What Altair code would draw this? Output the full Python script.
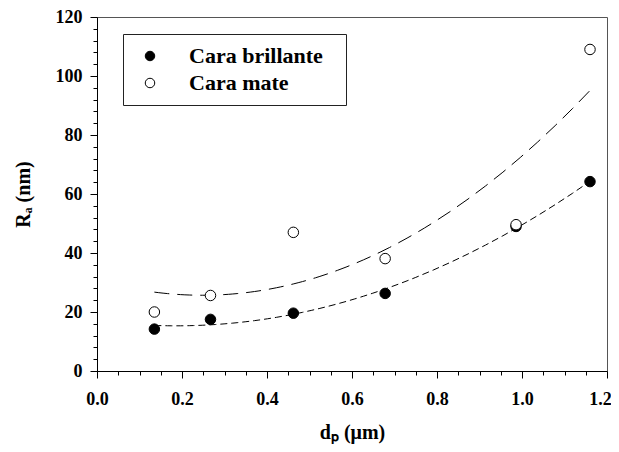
import altair as alt
import pandas as pd

# Data
dp = [0.135, 0.267, 0.462, 0.678, 0.986, 1.160]
ra_brillante = [14.2, 17.5, 19.6, 26.3, 49.0, 64.2]
ra_mate = [20.0, 25.6, 47.0, 38.1, 49.6, 109.0]
series = ["Cara brillante", "Cara mate"]
dashes = [[7, 4], [15, 8]]

x_ticks = [0.0, 0.05, 0.1, 0.15, 0.2, 0.25, 0.3, 0.35, 0.4, 0.45, 0.5, 0.55, 0.6,
           0.65, 0.7, 0.75, 0.8, 0.85, 0.9, 0.95, 1.0, 1.05, 1.1, 1.15, 1.2]
y_ticks = list(range(0, 121, 4))

df = pd.DataFrame({
    "dp": dp + dp,
    "ra": ra_brillante + ra_mate,
    "serie": [series[0]] * len(dp) + [series[1]] * len(dp),
})

FONT = "Liberation Serif"
x_major = "abs(datum.value*5 - round(datum.value*5)) < 1e-6"
y_major = "datum.value % 20 == 0"

x_enc = alt.X(
    "dp:Q",
    scale=alt.Scale(domain=[0, 1.2], nice=False),
    axis=alt.Axis(
        title="dₚ (μm)",
        values=x_ticks,
        labelExpr=f"{x_major} ? format(datum.value, '.1f') : ''",
        tickSize={"condition": {"test": x_major, "value": 7}, "value": 4},
        labelOffset={"condition": {"test": "datum.value > 1.19", "value": -7}, "value": 0},
        labelPadding=12,
        titlePadding=14,
        labelOverlap=False,
        labelFlush=False,
        labelBound=False,
    ),
)
y_enc = alt.Y(
    "ra:Q",
    scale=alt.Scale(domain=[0, 120], nice=False),
    axis=alt.Axis(
        title="Rₐ (nm)",
        values=y_ticks,
        labelExpr=f"{y_major} ? datum.label : ''",
        tickSize={"condition": {"test": y_major, "value": 7}, "value": 4},
        labelPadding=8,
        titlePadding=22,
        labelOverlap=False,
        labelFlush=False,
    ),
)

base = alt.Chart(df)

line_layers = [
    base.transform_filter(alt.datum.serie == s)
    .transform_regression("dp", "ra", method="poly", order=2)
    .mark_line(color="black", strokeWidth=1, strokeDash=d)
    .encode(x=x_enc, y=y_enc)
    for s, d in zip(series, dashes)
]

points = base.mark_circle(
    size=110, stroke="black", strokeWidth=1, opacity=1
).encode(
    x=x_enc,
    y=y_enc,
    fill=alt.Fill(
        "serie:N",
        scale=alt.Scale(domain=series, range=["black", "white"]),
        legend=alt.Legend(
            title=".",
            titleOrient="right",
            titleColor="white",
            titleFontSize=2,
            titlePadding=11,
            orient="none",
            legendX=26,
            legendY=17,
            direction="vertical",
            padding=11,
            rowPadding=5,
            symbolType="circle",
            symbolSize=90,
            symbolStrokeColor="black",
            symbolStrokeWidth=1,
            symbolOpacity=1,
            symbolOffset=5,
            labelOffset=28,
            labelFont=FONT,
            labelFontSize=22,
            labelFontWeight="bold",
            labelColor="black",
            labelLimit=400,
            strokeColor="#222",
            fillColor="white",
        ),
    ),
)

chart = alt.layer(*line_layers, points).properties(
    width=510,
    height=354,
    background="white",
    autosize=alt.AutoSizeParams(type="none"),
    padding={"left": 89, "top": 9, "right": 4, "bottom": 73},
).configure_view(
    stroke="#555", strokeWidth=1
).configure_axis(
    grid=False,
    domainColor="black",
    domainWidth=1,
    tickColor="black",
    tickWidth=1,
    labelFont=FONT,
    labelFontSize=18,
    labelFontWeight="bold",
    labelColor="black",
    titleFont=FONT,
    titleFontSize=20,
    titleFontWeight="bold",
    titleColor="black",
)

chart.save("out.html", embed_options={"renderer": "svg", "actions": False})
